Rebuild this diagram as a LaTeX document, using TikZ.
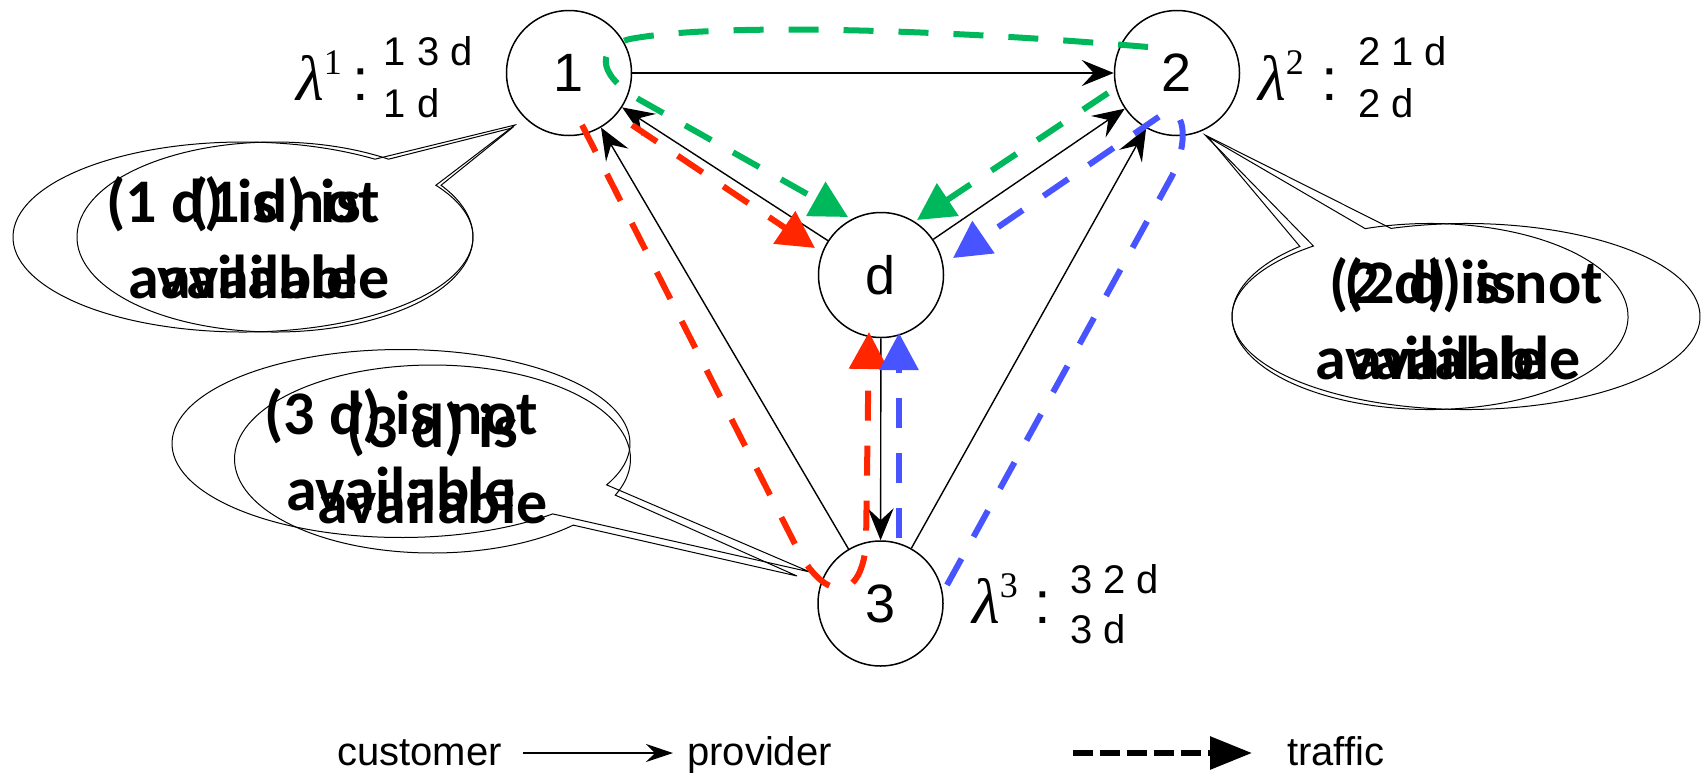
\documentclass[tikz,border=0pt]{standalone}
\usepackage{fontspec}
\setmainfont{Liberation Sans}
\newfontfamily\callfont{Carlito}
\newfontfamily\lamfont{Liberation Serif}
\usetikzlibrary{arrows.meta,calc}
\definecolor{tgreen}{RGB}{0,184,92}
\definecolor{tred}{RGB}{255,38,0}
\definecolor{tblue}{RGB}{72,84,255}
\begin{document}
\begin{tikzpicture}[x=1pt,y=-1pt,
  vert/.style={circle, draw, line width=1.5pt, fill=white, minimum size=125pt, inner sep=0pt, font=\fontsize{54}{60}\selectfont},
  cp/.style={line width=1.4pt, -{Stealth[length=32pt,width=26pt,inset=12pt]}},
  traffic/.style={line width=6pt, dash pattern=on 30pt off 25pt, -{Triangle[length=37pt,width=38pt]}},
  callout/.style={draw, line width=1pt},
  calltext/.style={font=\callfont\bfseries\fontsize{62}{76}\selectfont, align=center, inner sep=0pt, anchor=base},
  lab/.style={font=\fontsize{40}{48}\selectfont, inner sep=0pt, anchor=base west},
  colon/.style={font=\fontsize{60}{60}\selectfont, inner sep=0pt, anchor=base},
  lam/.style={font=\lamfont\fontsize{64}{64}\selectfont, inner sep=0pt, anchor=base west},
]
\fill[white] (0,0) rectangle (1701,772);
\useasboundingbox (0,0) rectangle (1701,772);

% callouts
\coordinate (c1a) at (243,237); \coordinate (t1a) at (515,125);
\coordinate (c1b) at (275,237); \coordinate (t1b) at (512,128);
\draw[callout] (t1a) -- ($(c1a)+(-33:230 and 95)$) arc[start angle=-33,end angle=305,x radius=230,y radius=95] -- cycle;
\draw[callout] (t1b) -- ($(c1b)+(-33:198 and 95)$) arc[start angle=-33,end angle=305,x radius=198,y radius=95] -- cycle;
\node[calltext] (q1a) at (243,298) {(1 d) is not\\available};
\node[calltext] (q1b) at (275,298) {(1 d) is\\available};

\coordinate (c2a) at (1466,316.5); \coordinate (t2a) at (1205,135);
\coordinate (c2b) at (1430,316.5); \coordinate (t2b) at (1208,137);
\draw[callout] (t2a) -- ($(c2a)+(-108.7:234 and 93)$) arc[start angle=-108.7,end angle=229.3,x radius=234,y radius=93] -- cycle;
\draw[callout] (t2b) -- ($(c2b)+(-109.1:198 and 93)$) arc[start angle=-109.1,end angle=228.9,x radius=198,y radius=93] -- cycle;
\node[calltext] (q2a) at (1466,379) {(2 d) is not\\available};
\node[calltext] (q2b) at (1430,379) {(2 d) is\\available};

\coordinate (c3a) at (401,443.5); \coordinate (t3a) at (810,572);
\coordinate (c3b) at (432.5,459); \coordinate (t3b) at (797,576);
\draw[callout] (t3a) -- ($(c3a)+(48.5:229 and 94)$) arc[start angle=48.5,end angle=386.1,x radius=229,y radius=94] -- cycle;
\draw[callout] (t3b) -- ($(c3b)+(44.7:198 and 94)$) arc[start angle=44.7,end angle=382.6,x radius=198,y radius=94] -- cycle;
\node[calltext] (q3a) at (401,510) {(3 d) is not\\available};
\node[calltext] (q3b) at (432.5,523) {(3 d) is\\available};

% nodes
\node[vert] (n1) at (569,73) {1};
\node[vert] (n2) at (1177,73) {2};
\node[vert] (nd) at (881,275) {d};
\node[vert] (n3) at (880.5,603.5) {3};

% customer -> provider
\draw[cp] (n1) -- (n2);
\draw[cp] (nd) -- (n1);
\draw[cp] (n3) -- (n1);
\draw[cp] (nd) -- (n2);
\draw[cp] (n3) -- (n2);
\draw[cp] (nd) -- (n3);

% lambda labels
\node[lam] (lam1) at (296,100) {{\itshape λ}\raisebox{26pt}{\fontsize{36}{36}\selectfont 1}};
\node[colon] (col1) at (361,100) {:};
\node[lab] (r1a) at (383.5,65) {1 3 d};
\node[lab] (r1b) at (383.5,117) {1 d};

\node[lam] (lam2) at (1258,100) {{\itshape λ}\raisebox{26pt}{\fontsize{36}{36}\selectfont 2}};
\node[colon] (col2) at (1330,100) {:};
\node[lab] (r2a) at (1358,65) {2 1 d};
\node[lab] (r2b) at (1358,117) {2 d};

\node[lam] (lam3) at (972,623) {{\itshape λ}\raisebox{26pt}{\fontsize{36}{36}\selectfont 3}};
\node[colon] (col3) at (1043,623) {:};
\node[lab] (r3a) at (1070,593) {3 2 d};
\node[lab] (r3b) at (1070,643) {3 d};

% traffic
\coordinate (g21s) at (1148,47); \coordinate (g21m) at (630,39); \coordinate (g21n) at (640,100); \coordinate (g21e) at (848,217);
\draw[traffic, tgreen] (g21s) .. controls (950,30) and (720,22) .. (g21m) .. controls (600,46) and (592,72) .. (g21n) -- (g21e);
\coordinate (g2s) at (1108,93); \coordinate (g2e) at (917,220);
\draw[traffic, tgreen] (g2s) -- (g2e);

\coordinate (r1s) at (632,125); \coordinate (r1e) at (815,248);
\draw[traffic, tred] (r1s) -- (r1e);
\coordinate (r13s) at (582,125); \coordinate (r13b) at (797,548); \coordinate (r13c) at (866,545); \coordinate (r13e) at (869,332);
\draw[traffic, tred] (r13s) -- (r13b) .. controls (822,598) and (860,606) .. (r13c) -- (r13e);

\coordinate (b3s) at (899,538); \coordinate (b3e) at (899,333);
\draw[traffic, tblue] (b3s) -- (b3e);
\coordinate (b32s) at (947,585); \coordinate (b32b) at (1172,176); \coordinate (b32c) at (1160,116); \coordinate (b32e) at (953,258);
\draw[traffic, tblue] (b32s) -- (b32b) .. controls (1190,140) and (1185,101) .. (b32c) -- (b32e);

% legend
\node[lab] (cust) at (337,765) {customer};
\node[lab] (prov) at (687,765) {provider};
\node[lab] (traf) at (1287,765) {traffic};
\coordinate (lc1) at (523,753); \coordinate (lc2) at (673,753);
\coordinate (lt1) at (1073,753); \coordinate (lt2) at (1252,753);
\draw[line width=1.4pt, -{Stealth[length=27pt,width=18pt,inset=9pt]}] (lc1) -- (lc2);
\draw[line width=6pt, dash pattern=on 20pt off 7pt, -{Triangle[length=42pt,width=32pt]}] (lt1) -- (lt2);
\end{tikzpicture}
\end{document}
